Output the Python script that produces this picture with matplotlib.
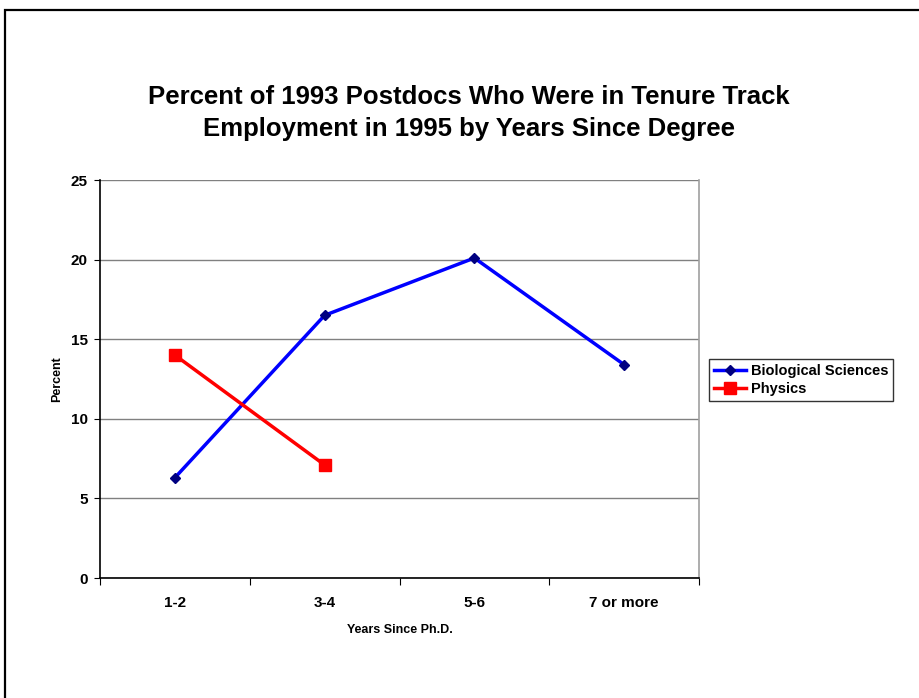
import matplotlib
matplotlib.use("Agg")
import matplotlib.pyplot as plt
from matplotlib.patches import Rectangle

plt.rcParams['font.family'] = ['Liberation Sans', 'DejaVu Sans']

categories = ["1-2", "3-4", "5-6", "7 or more"]
bio = [6.3, 16.5, 20.1, 13.4]
physics = [14.0, 7.1]
yticks = [0, 5, 10, 15, 20, 25]

fig = plt.figure(figsize=(9.19, 6.98), dpi=100)
# outer frame of the chart area (extends past right/bottom)
fig.add_artist(Rectangle((4.5/919, -0.1), 1.2, 1 - 9.5/698 + 0.1,
                         transform=fig.transFigure, fill=False,
                         edgecolor='black', linewidth=1.6))

ax = fig.add_axes([100/919, 1 - 578/698, 599/919, 398/698])
x = list(range(len(categories)))
ax.plot(x, bio, color='#0000FF', linewidth=2.5, marker='D', markersize=5,
        markerfacecolor='#000080', markeredgecolor='#000080',
        label='Biological Sciences')
ax.plot(x[:len(physics)], physics, color='#FF0000', linewidth=2.5, marker='s',
        markersize=9, markerfacecolor='#FF0000', markeredgecolor='#FF0000',
        label='Physics')

ax.set_xlim(-0.5, len(categories) - 0.5)
ax.set_ylim(0, 25)
ax.set_yticks(yticks)
ax.set_yticklabels([str(v) for v in yticks], fontsize=11, fontweight='bold')
ax.set_xticks([i - 0.5 for i in range(len(categories) + 1)])
ax.set_xticklabels([])
ax.set_xticks(x, minor=True)
ax.set_xticklabels(categories, minor=True, fontsize=11, fontweight='bold')
ax.tick_params(axis='x', which='minor', length=0, pad=13)
ax.tick_params(axis='x', which='major', length=5, direction='out', color='black')
ax.tick_params(axis='y', length=4, direction='out', pad=5)
ax.grid(axis='y', color='#808080', linewidth=1)
ax.set_axisbelow(True)
for s in ['left', 'bottom']:
    ax.spines[s].set_color('black')
    ax.spines[s].set_linewidth(1.2)
ax.spines['top'].set_visible(False)
ax.spines['right'].set_color('#A0A0A0')
ax.spines['right'].set_linewidth(1.2)

ax.set_xlabel('Years Since Ph.D.', fontsize=9, fontweight='bold', labelpad=10)
ax.set_ylabel('Percent', fontsize=9, fontweight='bold', labelpad=5)

fig.text(469/919, 1 - 113/698,
         'Percent of 1993 Postdocs Who Were in Tenure Track\nEmployment in 1995 by Years Since Degree',
         ha='center', va='center', fontsize=18.5, fontweight='bold', linespacing=1.4)

leg = ax.legend(loc='center left', bbox_to_anchor=(709/919, 1 - 380/698),
                bbox_transform=fig.transFigure, frameon=True, fancybox=False,
                prop={'size': 10.5, 'weight': 'bold'}, handlelength=2.2,
                handletextpad=0.3, borderpad=0.35, labelspacing=0.25,
                borderaxespad=0)
leg.get_frame().set_edgecolor('black')
leg.get_frame().set_linewidth(1)

fig.savefig('out.png', dpi=100, facecolor='white')
